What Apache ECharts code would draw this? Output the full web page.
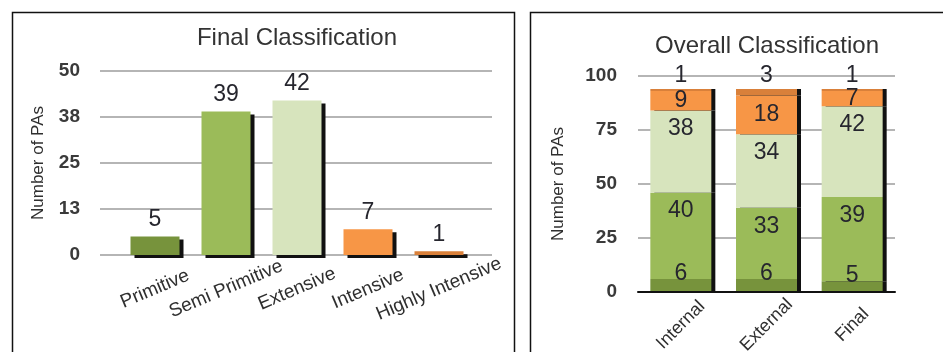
<!DOCTYPE html>
<html>
<head>
<meta charset="utf-8">
<script src="https://cdn.jsdelivr.net/npm/echarts@6/dist/echarts.min.js"></script>
<style>
html,body{margin:0;padding:0;background:#fff;}
#c{width:943px;height:352px;}
</style>
</head>
<body>
<div id="c"></div>
<script>
// ---- data ----
const categories = ['Primitive', 'Semi Primitive', 'Extensive', 'Intensive', 'Highly Intensive'];
const finalCounts = [5, 39, 42, 7, 1];
const leftTickValues = [0, 12.5, 25, 37.5, 50];
const groups = ['Internal', 'External', 'Final'];
const primitive = [6, 6, 5];
const semiPrimitive = [40, 33, 39];
const extensive = [38, 34, 42];
const intensive = [9, 18, 7];
const highlyIntensive = [1, 3, 1];
const rightTickValues = [0, 25, 50, 75, 100];

// ---- styles ----
const FONT = 'Liberation Sans, Arial, sans-serif';
const colors = ['#77933c', '#9bbb59', '#d7e4bd', '#f79646', '#d9803a'];
const gridColor = '#b5b5b5';
const textColor = '#2f2f2f';
const labelColor = '#26262e';

const chart = echarts.init(document.getElementById('c'));

const leftGrid = { left: 100, top: 71, width: 392, height: 184, outerBoundsMode: 'none' };
const leftBarGrid = { left: 119.5, top: 71, width: 355, height: 184, outerBoundsMode: 'none' };
const rightGrid = { left: 638, top: 76, width: 257, height: 216, outerBoundsMode: 'none' };

function stackSeries(name, data, idx, label) {
  return {
    type: 'bar', name: name, data: data, stack: 'all',
    xAxisIndex: 2, yAxisIndex: 2, barWidth: 61,
    itemStyle: { color: colors[idx], shadowColor: '#111', shadowOffsetX: 4, shadowOffsetY: 0, shadowBlur: 0 },
    label: Object.assign({ show: true, fontSize: 23, fontFamily: FONT, color: labelColor }, label),
    z: 3
  };
}

chart.setOption({
  animation: false,
  backgroundColor: '#fff',
  title: [
    { text: 'Final Classification', left: 292, top: 21, textAlign: 'center',
      textStyle: { fontFamily: FONT, fontSize: 24, fontWeight: 'normal', color: '#333' } },
    { text: 'Overall Classification', left: 762, top: 29, textAlign: 'center',
      textStyle: { fontFamily: FONT, fontSize: 24, fontWeight: 'normal', color: '#333' } }
  ],
  graphic: [
    { type: 'rect', shape: { x: 12.5, y: 12.5, width: 502, height: 400 },
      style: { fill: null, stroke: '#111', lineWidth: 1.5 }, z: 100 },
    { type: 'rect', shape: { x: 530.5, y: 12.5, width: 500, height: 400 },
      style: { fill: null, stroke: '#111', lineWidth: 1.5 }, z: 100 }
  ],
  grid: [leftGrid, leftBarGrid, rightGrid],
  xAxis: [
    { type: 'category', gridIndex: 0, data: [], show: false },
    { type: 'category', gridIndex: 1, data: categories,
      axisLine: { show: false }, axisTick: { show: false },
      axisLabel: { rotate: 23, align: 'center', verticalAlign: 'middle', margin: 34, interval: 0,
        fontFamily: FONT, fontSize: 19, color: textColor } },
    { type: 'category', gridIndex: 2, data: groups,
      axisLine: { show: true, lineStyle: { color: '#111', width: 2 } }, axisTick: { show: false },
      axisLabel: { rotate: 45, align: 'center', verticalAlign: 'middle', margin: 33, interval: 0,
        fontFamily: FONT, fontSize: 18, color: textColor }, z: 10 }
  ],
  yAxis: [
    { type: 'value', gridIndex: 0, min: leftTickValues[0], max: leftTickValues[leftTickValues.length - 1],
      interval: leftTickValues[1] - leftTickValues[0],
      name: 'Number of PAs', nameLocation: 'middle', nameGap: 53,
      nameTextStyle: { fontFamily: FONT, fontSize: 17, color: textColor },
      axisLine: { show: false }, axisTick: { show: false },
      axisLabel: { margin: 20, fontFamily: FONT, fontSize: 19, fontWeight: 'bold', color: '#3a3a3a',
        formatter: function (v) { return String(Math.round(v)); } },
      splitLine: { lineStyle: { color: gridColor, width: 2 } } },
    { type: 'value', gridIndex: 1, min: leftTickValues[0], max: leftTickValues[leftTickValues.length - 1],
      interval: leftTickValues[1] - leftTickValues[0], show: false, splitLine: { show: false } },
    { type: 'value', gridIndex: 2, min: rightTickValues[0], max: rightTickValues[rightTickValues.length - 1],
      interval: rightTickValues[1] - rightTickValues[0],
      name: 'Number of PAs', nameLocation: 'middle', nameGap: 71,
      nameTextStyle: { fontFamily: FONT, fontSize: 17, color: textColor },
      axisLine: { show: false }, axisTick: { show: false },
      axisLabel: { margin: 21, fontFamily: FONT, fontSize: 19, fontWeight: 'bold', color: '#3a3a3a' },
      splitLine: { lineStyle: { color: gridColor, width: 2 } } }
  ],
  series: [
    { type: 'bar', name: 'Final', data: finalCounts, xAxisIndex: 1, yAxisIndex: 1, barWidth: 49,
      itemStyle: { color: function (p) { return colors[p.dataIndex]; },
        shadowColor: '#111', shadowOffsetX: 4, shadowOffsetY: 3, shadowBlur: 0 },
      label: { show: true, position: 'top', distance: 5, fontSize: 23, fontFamily: FONT, color: labelColor },
      z: 3 },
    stackSeries(categories[0], primitive, 0, { position: 'top', distance: -6 }),
    stackSeries(categories[1], semiPrimitive, 1, { position: 'insideTop', distance: 7 }),
    stackSeries(categories[2], extensive, 2, { position: 'insideTop', distance: 7 }),
    stackSeries(categories[3], intensive, 3, { position: 'inside' }),
    stackSeries(categories[4], highlyIntensive, 4, { position: 'top', distance: 2 })
  ]
});
</script>
</body>
</html>
